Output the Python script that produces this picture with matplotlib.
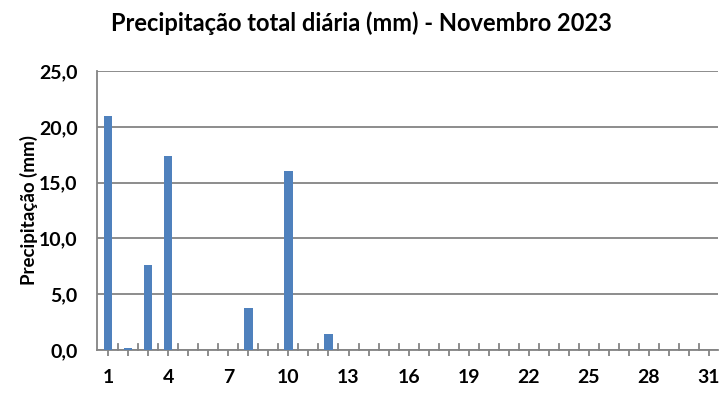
import matplotlib
matplotlib.use("Agg")
import matplotlib.pyplot as plt
import numpy as np

days = list(range(1, 31))
precip = [21.0, 0.2, 7.6, 17.4, 0.0, 0.0, 0.0, 3.8, 0.0, 16.0,
          0.0, 1.4, 0.0, 0.0, 0.0, 0.0, 0.0, 0.0, 0.0, 0.0,
          0.0, 0.0, 0.0, 0.0, 0.0, 0.0, 0.0, 0.0, 0.0, 0.0]
xtick_days = [1, 4, 7, 10, 13, 16, 19, 22, 25, 28, 31]
yticks = [0, 5, 10, 15, 20, 25]
title = "Precipitação total diária (mm) - Novembro 2023"
ylabel = "Precipitação (mm)"

plt.rcParams['font.family'] = ['Lato', 'DejaVu Sans']
gray = '#848484'

fig = plt.figure(figsize=(7.2, 4.01), dpi=100)
ax = fig.add_axes([0.1347, 0.1272, 0.8625, 0.6958])

ax.set_axisbelow(True)
ax.bar(days, precip, width=0.42, color='#4F81BD', zorder=3)

ax.set_xlim(0.44, 31.45)
ax.set_ylim(0, 25)
ax.set_yticks(yticks)
ax.set_yticklabels([f"{v:.1f}".replace('.', ',') for v in yticks],
                   fontsize=14, fontweight='bold')
ax.yaxis.grid(True, color=gray, linewidth=1.3)
ax.tick_params(axis='y', length=0, pad=14)

ax.set_xticks(xtick_days)
ax.set_xticklabels([str(d) for d in xtick_days], fontsize=14, fontweight='bold')
ax.set_xticks(list(range(1, 32)), minor=True)
ax.tick_params(axis='x', which='both', direction='out', length=4.5, width=1.3,
               color=gray, pad=9)
ax.tick_params(axis='x', which='minor', labelbottom=False)
# inner ticks at category boundaries
for b in np.arange(1.5, 31.5, 1.0):
    ax.plot([b, b], [0, 0.5], color=gray, lw=1.3, zorder=2, clip_on=False)

for s in ['top', 'right']:
    ax.spines[s].set_visible(False)
for s in ['left', 'bottom']:
    ax.spines[s].set_color(gray)
    ax.spines[s].set_linewidth(1.3)

ax.set_ylabel(ylabel, fontsize=13.5, fontweight='bold', labelpad=1)
fig.suptitle(title, x=0.502, y=0.972, fontsize=17, fontweight='bold')

fig.savefig("out.png", dpi=100, facecolor='white')
